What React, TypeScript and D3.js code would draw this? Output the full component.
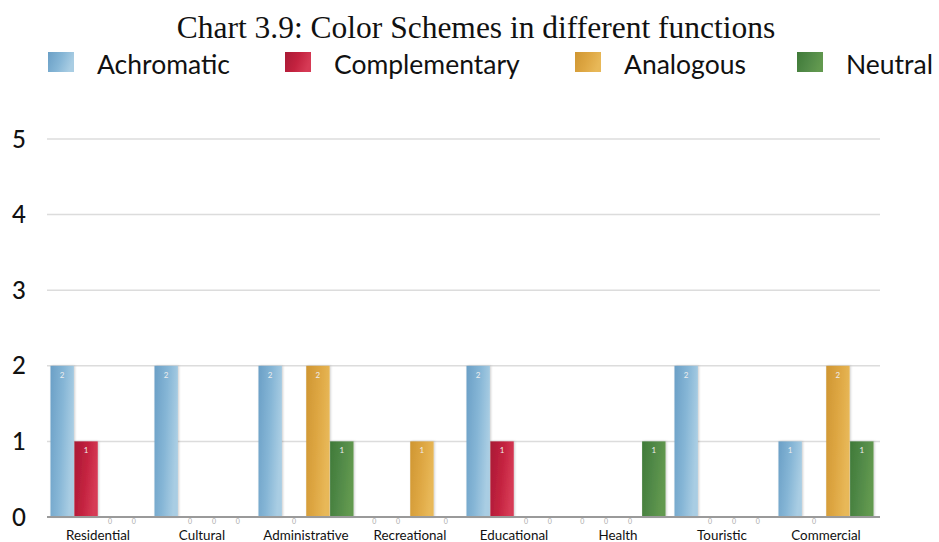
import React from "react";
import * as d3 from "d3";

const categories = ["Residential", "Cultural", "Administrative", "Recreational", "Educational", "Health", "Touristic", "Commercial"];
const seriesNames = ["Achromatic", "Complementary", "Analogous", "Neutral"];
const achromatic = [2, 2, 2, 0, 2, 0, 2, 1];
const complementary = [1, 0, 0, 0, 1, 0, 0, 0];
const analogous = [0, 0, 2, 1, 0, 0, 0, 2];
const neutral = [0, 0, 1, 0, 0, 1, 0, 1];
const yTicks = [0, 1, 2, 3, 4, 5];
const title = "Chart 3.9: Color Schemes in different functions";

const seriesValues = [achromatic, complementary, analogous, neutral];
const colors = ["#86b6d6", "#c3223f", "#dea743", "#528a48"];
const colorsDark = ["#6a9fc6", "#a81a35", "#cf9632", "#3f7a38"];
const colorsLight = ["#a9cde3", "#d63a55", "#e8b858", "#62994f"];

const W = 939;
const H = 542;

export default function App() {
  const x0 = d3.scaleBand<string>().domain(categories).range([46, 878]).paddingInner(0.077).paddingOuter(0.0385);
  const x1 = d3.scaleBand<string>().domain(seriesNames).range([0, x0.bandwidth()]).padding(0.02);
  const y = d3.scaleLinear().domain([0, 5]).range([517, 139]);
  const font = "Lato, 'Open Sans', sans-serif";

  const legendX = [48, 285, 575, 797];

  return (
    <svg width={W} height={H} style={{ position: "absolute", left: 0, top: 0, background: "#fff" }} xmlns="http://www.w3.org/2000/svg">
      <defs>
        {colors.map((c, i) => (
          <linearGradient key={i} id={`g${i}`} x1="0" x2="1" y1="0" y2="0.3">
            <stop offset="0%" stopColor={colorsDark[i]} />
            <stop offset="55%" stopColor={c} />
            <stop offset="100%" stopColor={colorsLight[i]} />
          </linearGradient>
        ))}
        <filter id="sh" x="-20%" y="-5%" width="140%" height="110%">
          <feDropShadow dx="1" dy="0" stdDeviation="1" floodColor="#000" floodOpacity="0.2" />
        </filter>
      </defs>

      <text x={476} y={38} textAnchor="middle" fontFamily="'Liberation Serif', 'Times New Roman', serif" fontSize={31.5} fill="#111">
        {title}
      </text>

      {seriesNames.map((s, i) => (
        <g key={s}>
          <rect x={legendX[i]} y={52} width={26} height={20} fill={`url(#g${i})`} />
          <text x={legendX[i] + 49} y={74} fontFamily={font} fontSize={26.5} fill="#111">
            {s}
          </text>
        </g>
      ))}

      {yTicks.map((t) => (
        <g key={t}>
          {t > 0 && <line x1={47} x2={880} y1={y(t)} y2={y(t)} stroke="#dcdcdc" strokeWidth={1.5} />}
          <text x={19} y={y(t)} dy="0.36em" textAnchor="middle" fontFamily={font} fontSize={24} fontWeight={500} fill="#111">
            {t}
          </text>
        </g>
      ))}

      {categories.map((c, ci) => (
        <g key={c} transform={`translate(${x0(c)},0)`}>
          {seriesNames.map((s, si) => {
            const v = seriesValues[si][ci];
            const bx = x1(s) as number;
            const bw = x1.bandwidth();
            if (v === 0) {
              return (
                <text key={s} x={bx + bw / 2} y={524} textAnchor="middle" fontFamily={font} fontSize={7} fill="#aaa">
                  0
                </text>
              );
            }
            return (
              <g key={s}>
                <rect x={bx} y={y(v)} width={bw} height={y(0) - y(v)} fill={`url(#g${si})`} filter="url(#sh)" />
                <text x={bx + bw / 2} y={y(v) + 12} textAnchor="middle" fontFamily={font} fontSize={8} fill="#eee">
                  {v}
                </text>
              </g>
            );
          })}
          <text x={x0.bandwidth() / 2} y={540} textAnchor="middle" fontFamily={font} fontSize={13.4} fill="#111">
            {c}
          </text>
        </g>
      ))}

      <line x1={47} x2={880} y1={y(0)} y2={y(0)} stroke="#9a9a9a" strokeWidth={2} />
    </svg>
  );
}
